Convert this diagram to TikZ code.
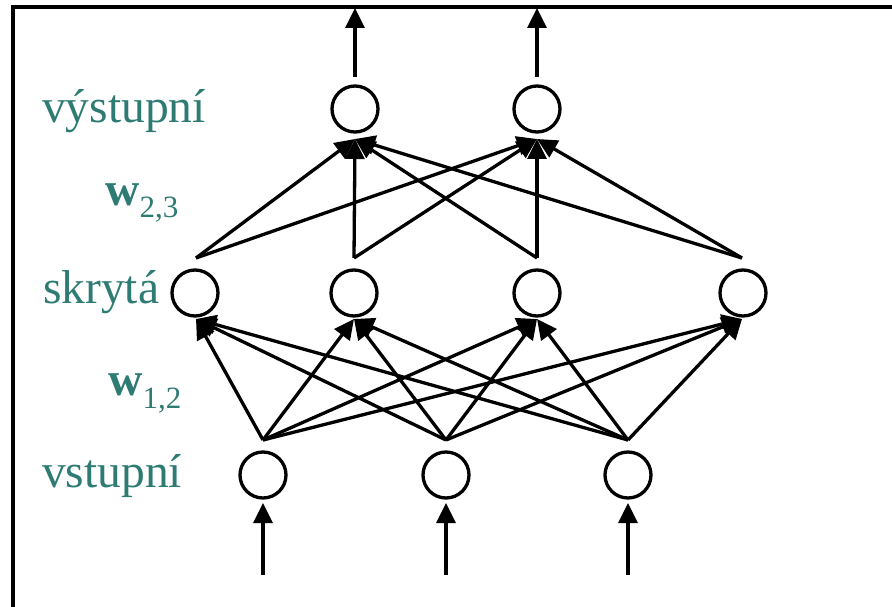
\documentclass[tikz,border=0pt]{standalone}
\usepackage{fontspec}
\setmainfont{Liberation Serif}
\usetikzlibrary{arrows.meta}
\definecolor{labteal}{RGB}{46,123,115}
\begin{document}
\begin{tikzpicture}[x=1pt,y=-1pt,
  neuron/.style={circle,draw=black,line width=3.3pt,minimum size=46pt,inner sep=0pt},
  conn/.style={line width=3.3pt,-{Triangle[length=20pt,width=19pt]}},
  lab/.style={text=labteal,inner sep=0pt,anchor=base west,font=\fontsize{47.5}{57}\selectfont},
  frame/.style={line width=3.5pt}]
\useasboundingbox (0,0) rectangle (892,607);
% frame
\coordinate (fa) at (13,607);
\coordinate (fb) at (13,7);
\coordinate (fc) at (892,7);
\draw[frame] (fa) -- (fb) -- (fc);
% neurons
\node[neuron] (o1) at (355,109) {};
\node[neuron] (o2) at (537,109) {};
\node[neuron] (h1) at (195,293) {};
\node[neuron] (h2) at (354,293) {};
\node[neuron] (h3) at (537,293) {};
\node[neuron] (h4) at (743,293) {};
\node[neuron] (i1) at (263,475) {};
\node[neuron] (i2) at (446,475) {};
\node[neuron] (i3) at (628,475) {};
% connection points
\foreach \n/\x in {o1/355,o2/537}{
  \coordinate (\n b) at (\x,139);
  \coordinate (\n t) at (\x,77);
  \coordinate (\n out) at (\x,8);
}
\foreach \n/\x in {h1/196,h2/354,h3/537,h4/742}{
  \coordinate (\n b) at (\x,319);
  \coordinate (\n t) at (\x,258);
}
\foreach \n/\x in {i1/263,i2/446,i3/628}{
  \coordinate (\n t) at (\x,440);
  \coordinate (\n in) at (\x,575);
  \coordinate (\n b) at (\x,503);
}
% input arrows
\foreach \n in {i1,i2,i3} \draw[conn] (\n in) -- (\n b);
% input -> hidden
\foreach \a in {i1,i2,i3}
  \foreach \b in {h1,h2,h3,h4}
    \draw[conn] (\a t) -- (\b b);
% hidden -> output
\foreach \a in {h1,h2,h3,h4}
  \foreach \b in {o1,o2}
    \draw[conn] (\a t) -- (\b b);
% output arrows
\foreach \n in {o1,o2} \draw[conn] (\n t) -- (\n out);
% labels
\node[lab] (lout) at (42,123) {výstupní};
\node[lab] (w23) at (105,205) {\textbf{w}\raisebox{-13pt}{\fontsize{31}{31}\selectfont 2,3}};
\node[lab] (lhid) at (43,303) {skrytá};
\node[lab] (w12) at (108,395) {\textbf{w}\raisebox{-13pt}{\fontsize{31}{31}\selectfont 1,2}};
\node[lab] (lin) at (42,487) {vstupní};
\end{tikzpicture}
\end{document}
